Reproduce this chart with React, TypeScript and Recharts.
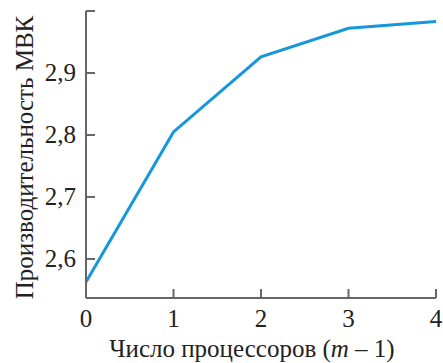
import { LineChart, Line, XAxis, YAxis } from 'recharts'

const processors = [0, 1, 2, 3, 4]
const performance = [2.563, 2.805, 2.926, 2.972, 2.983]
const yTicks = [2.6, 2.7, 2.8, 2.9, 3.0]
const xTicks = [0, 1, 2, 3, 4]

const data = processors.map((m, i) => ({ m, value: performance[i] }))

const AXIS = '#666666'
const FONT = 'Liberation Serif'
const textStyle = { fill: '#222', fontSize: 25, fontFamily: FONT }

function XTick(props: any) {
  return (
    <text x={props.x} y={props.y} dy={18} textAnchor="middle" style={textStyle}>
      {props.payload.value}
    </text>
  )
}

function YTick(props: any) {
  const v = props.payload.value
  if (v >= 3) return null
  return (
    <text x={props.x} y={props.y} dy={8} textAnchor="end" style={textStyle}>
      {v.toFixed(1).replace('.', ',')}
    </text>
  )
}

// x label with italic m, drawn from the axis viewBox
function XLabel(props: any) {
  const vb = props.viewBox || { x: 0, y: 0, width: 0, height: 0 }
  return (
    <text x={vb.x + vb.width / 2 - 9} y={vb.y + vb.height - 6} textAnchor="middle" style={textStyle}>
      Число процессоров (<tspan fontStyle="italic">m</tspan> – 1)
    </text>
  )
}

function YLabel(props: any) {
  const vb = props.viewBox || { x: 0, y: 0, width: 0, height: 0 }
  const cx = vb.x + 33
  const cy = vb.y + vb.height / 2 + 3
  return (
    <text x={cx} y={cy} textAnchor="middle" transform={`rotate(-90, ${cx}, ${cy})`} style={textStyle}>
      Производительность МВК
    </text>
  )
}

export default function App() {
  return (
    <div style={{ position: 'absolute', left: 0, top: 0, background: '#fff', fontFamily: FONT }}>
      <LineChart width={443} height={363} data={data}
        margin={{ top: 11, right: 7, bottom: 0, left: 0 }}>
        <XAxis dataKey="m" type="number" domain={[0, 4]} ticks={xTicks}
          stroke={AXIS} strokeWidth={2} tickSize={-9} tickMargin={20} height={65}
          tick={<XTick />}
          label={<XLabel />} />
        <XAxis xAxisId="top" orientation="top" dataKey="m" type="number" domain={[0, 4]}
          height={0} tick={false} tickLine={false} stroke={AXIS} strokeWidth={2} />
        <YAxis type="number" domain={[2.537, 3.0]} ticks={yTicks} allowDataOverflow
          stroke={AXIS} strokeWidth={2} tickSize={-9} tickMargin={19} width={86}
          tick={<YTick />}
          label={<YLabel />} />
        <YAxis yAxisId="right" orientation="right" type="number" domain={[2.537, 3.0]}
          width={0} tick={false} tickLine={false} stroke={AXIS} strokeWidth={2} />
        <Line type="linear" dataKey="value" stroke="#1797db" strokeWidth={3}
          dot={false} isAnimationActive={false} />
      </LineChart>
    </div>
  )
}
